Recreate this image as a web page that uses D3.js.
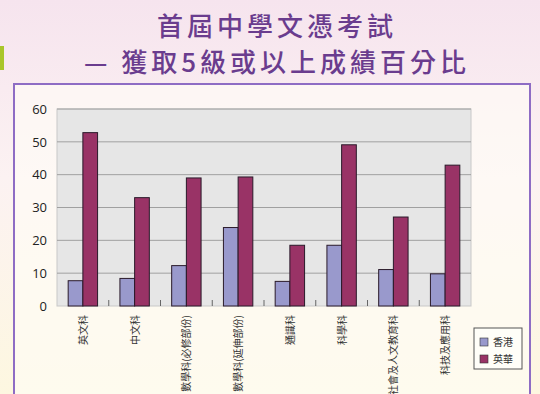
<!DOCTYPE html>
<html>
<head>
<meta charset="utf-8">
<script src="https://cdn.jsdelivr.net/npm/d3@7"></script>
<style>
  body { margin: 0; padding: 0; overflow: hidden; }
  svg { display: block; }
</style>
</head>
<body>
<svg id="chart"></svg>
<script>
var svg_width = 540;
var svg_height = 394;

// data
var subjects = ['英文科', '中文科', '數學科(必修部份)', '數學科(延伸部份)', '通識科', '科學科', '社會及人文教育科', '科技及應用科'];
var hk_values = [7.7, 8.4, 12.3, 23.9, 7.5, 18.5, 11.1, 9.8];
var yw_values = [52.8, 33.0, 39.0, 39.3, 18.5, 49.1, 27.1, 42.9];
var series_names = ['香港', '英華'];
var series_colors = ['#9999cc', '#993366'];
var y_ticks = [0, 10, 20, 30, 40, 50, 60];

var title_lines = ['首屆中學文憑考試', '— 獲取5級或以上成績百分比'];

var svg = d3.select('#chart')
  .attr('width', svg_width)
  .attr('height', svg_height);

// background gradient
var defs = svg.append('defs');
var grad = defs.append('linearGradient')
  .attr('id', 'bg')
  .attr('x1', 0).attr('y1', 0).attr('x2', 0).attr('y2', 1);
grad.append('stop').attr('offset', '0%').attr('stop-color', '#f6e4ee');
grad.append('stop').attr('offset', '45%').attr('stop-color', '#fcf2f2');
grad.append('stop').attr('offset', '100%').attr('stop-color', '#fdf7e0');

svg.append('rect')
  .attr('width', svg_width)
  .attr('height', svg_height)
  .attr('fill', 'url(#bg)');

// little green mark on the left edge
svg.append('rect')
  .attr('x', 0).attr('y', 46)
  .attr('width', 4).attr('height', 24)
  .attr('fill', '#a9c62a');

// title
svg.selectAll('text.title')
  .data(title_lines)
  .enter()
  .append('text')
  .classed('title', true)
  .attr('x', 277)
  .attr('y', function(d, i) { return 36 + i * 36; })
  .attr('text-anchor', 'middle')
  .attr('font-family', '"Noto Sans CJK TC", sans-serif')
  .attr('font-weight', 500)
  .attr('font-size', 26)
  .attr('letter-spacing', 4)
  .attr('fill', '#6a3c8e')
  .text(function(d) { return d; });

// frame box
svg.append('rect')
  .attr('x', 14).attr('y', 84)
  .attr('width', 516).attr('height', 330)
  .attr('fill', '#fffdf6')
  .attr('fill-opacity', 0.6)
  .attr('stroke', '#8e6cc4')
  .attr('stroke-width', 2);

var plot = { left: 57, right: 471, top: 109, bottom: 306 };

var xScale = d3.scaleBand()
  .domain(subjects)
  .range([plot.left, plot.right]);

var xInner = d3.scaleBand()
  .domain(series_names)
  .range([0, xScale.bandwidth()])
  .paddingInner(0)
  .paddingOuter(0.76);

var yScale = d3.scaleLinear()
  .domain([0, 60])
  .range([plot.bottom, plot.top]);

// plot background
svg.append('rect')
  .attr('x', plot.left).attr('y', plot.top)
  .attr('width', plot.right - plot.left)
  .attr('height', plot.bottom - plot.top)
  .attr('fill', '#e6e6e6')
  .attr('stroke', '#c8c8c8')
  .attr('stroke-width', 1);

// gridlines
svg.selectAll('line.grid')
  .data(y_ticks.slice(1))
  .enter()
  .append('line')
  .classed('grid', true)
  .attr('x1', plot.left).attr('x2', plot.right)
  .attr('y1', function(d) { return yScale(d); })
  .attr('y2', function(d) { return yScale(d); })
  .attr('stroke', '#a0a0a0')
  .attr('stroke-width', 1);

// y axis labels
var yAxis = d3.axisLeft(yScale)
  .tickValues(y_ticks)
  .tickSize(0)
  .tickPadding(10);

var yAxisG = svg.append('g')
  .attr('transform', 'translate(' + plot.left + ',0)')
  .call(yAxis);
yAxisG.select('.domain').remove();
yAxisG.selectAll('text')
  .attr('font-family', '"Open Sans", sans-serif')
  .attr('font-size', 13)
  .attr('fill', '#222');

// bars
var groups = svg.selectAll('g.subject')
  .data(subjects)
  .enter()
  .append('g')
  .classed('subject', true)
  .attr('transform', function(d) { return 'translate(' + xScale(d) + ',0)'; });

groups.selectAll('rect')
  .data(function(d, i) {
    return [
      { 'series': series_names[0], 'value': hk_values[i], 'color': series_colors[0] },
      { 'series': series_names[1], 'value': yw_values[i], 'color': series_colors[1] }
    ];
  })
  .enter()
  .append('rect')
  .attr('x', function(d) { return xInner(d['series']); })
  .attr('width', xInner.bandwidth())
  .attr('y', function(d) { return yScale(d['value']); })
  .attr('height', function(d) { return yScale(0) - yScale(d['value']); })
  .attr('fill', function(d) { return d['color']; })
  .attr('stroke', '#2a1a2a')
  .attr('stroke-width', 1);

// small ticks between categories
svg.selectAll('line.sep')
  .data(subjects.slice(1))
  .enter()
  .append('line')
  .classed('sep', true)
  .attr('x1', function(d) { return xScale(d); })
  .attr('x2', function(d) { return xScale(d); })
  .attr('y1', plot.bottom)
  .attr('y2', plot.bottom - 6)
  .attr('stroke', '#666')
  .attr('stroke-width', 1);

// x labels, rotated
svg.selectAll('text.xlab')
  .data(subjects)
  .enter()
  .append('text')
  .classed('xlab', true)
  .attr('transform', function(d) {
    return 'translate(' + (xScale(d) + xScale.bandwidth() / 2 + 4) + ',' + (plot.bottom + 9) + ') rotate(-90)';
  })
  .attr('text-anchor', 'end')
  .attr('font-family', '"Noto Sans CJK TC", sans-serif')
  .attr('font-size', 10)
  .attr('fill', '#333')
  .text(function(d) { return d; });

// legend
var legend = svg.append('g')
  .attr('transform', 'translate(474,328)');
legend.append('rect')
  .attr('width', 48).attr('height', 41)
  .attr('fill', '#fffef8')
  .attr('stroke', '#555')
  .attr('stroke-width', 1);
var items = legend.selectAll('g.item')
  .data(series_names)
  .enter()
  .append('g')
  .classed('item', true)
  .attr('transform', function(d, i) { return 'translate(6,' + (10 + i * 17) + ')'; });
items.append('rect')
  .attr('width', 8).attr('height', 8)
  .attr('fill', function(d, i) { return series_colors[i]; })
  .attr('stroke', '#333')
  .attr('stroke-width', 0.6);
items.append('text')
  .attr('x', 13)
  .attr('y', 8)
  .attr('font-family', '"Noto Sans CJK TC", sans-serif')
  .attr('font-size', 10)
  .attr('fill', '#333')
  .text(function(d) { return d; });
</script>
</body>
</html>
